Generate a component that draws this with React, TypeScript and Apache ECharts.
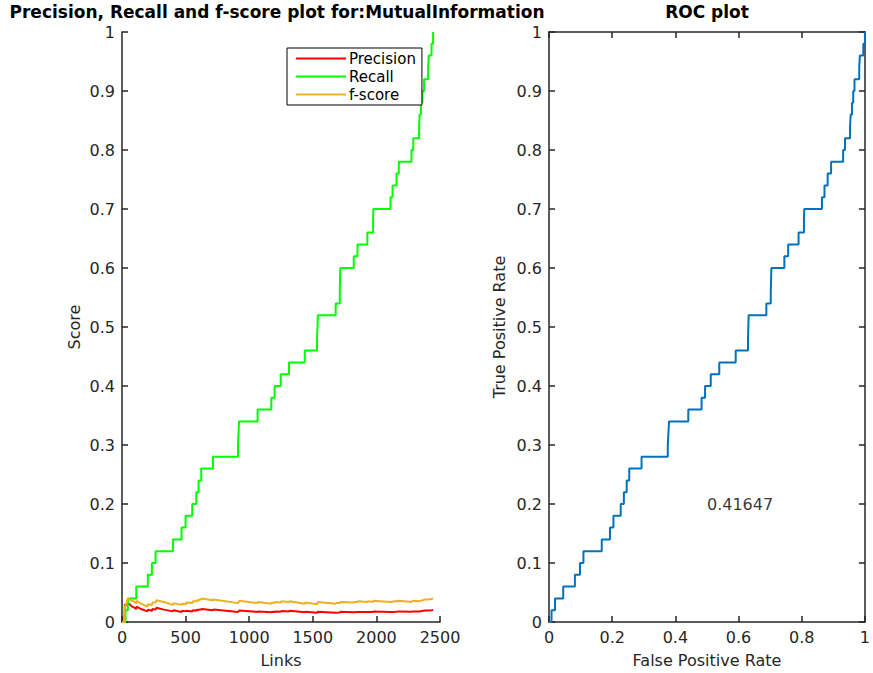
import { useEffect, useRef } from "react";
import * as echarts from "echarts";

const FONT = "DejaVu Sans";
const AXIS_COLOR = "#262626";

// Recall steps: link count at which recall reaches each new level
const recallLinks = [
  0, 28, 46, 112, 203, 235, 264, 400, 468, 500, 552, 584, 602, 623, 715, 912, 916, 920,
  1066, 1174, 1200, 1248, 1313, 1437, 1533, 1537, 1540, 1680, 1712, 1714, 1716, 1822,
  1851, 1929, 1974, 1976, 2111, 2127, 2158, 2176, 2276, 2290, 2336, 2340, 2350, 2362,
  2375, 2407, 2412, 2433, 2446,
];
const recallValues = [
  0, 0.02, 0.04, 0.06, 0.08, 0.1, 0.12, 0.14, 0.16, 0.18, 0.2, 0.22, 0.24, 0.26, 0.28,
  0.3, 0.32, 0.34, 0.36, 0.38, 0.4, 0.42, 0.44, 0.46, 0.48, 0.5, 0.52, 0.54, 0.56, 0.58,
  0.6, 0.62, 0.64, 0.66, 0.68, 0.7, 0.72, 0.74, 0.76, 0.78, 0.8, 0.82, 0.84, 0.86, 0.88,
  0.9, 0.92, 0.94, 0.96, 0.98, 1.0,
];

// Precision and f-score sampled at the same link counts
const scoreLinks = [
  0, 20, 22, 35, 46, 60, 80, 100, 112, 115,
  150, 200, 205, 235, 240, 264, 270, 330, 400, 405,
  468, 472, 500, 505, 552, 556, 584, 588, 602, 606,
  623, 627, 715, 720, 912, 916, 922, 1066, 1070, 1174,
  1178, 1200, 1205, 1248, 1252, 1313, 1318, 1437, 1442, 1533,
  1540, 1680, 1684, 1712, 1716, 1822, 1826, 1851, 1855, 1929,
  1933, 1974, 1978, 2111, 2115, 2127, 2131, 2158, 2162, 2176,
  2180, 2276, 2290, 2336, 2381, 2407, 2433, 2446,
];
const precisionValues = [
  0, 0, 0.03, 0.028, 0.032, 0.03, 0.026, 0.024, 0.022, 0.026,
  0.022, 0.018, 0.021, 0.019, 0.022, 0.021, 0.024, 0.021, 0.018, 0.02,
  0.017, 0.019, 0.018, 0.019, 0.018, 0.02, 0.019, 0.021, 0.02, 0.021,
  0.021, 0.022, 0.02, 0.021, 0.017, 0.018, 0.0195, 0.017, 0.018, 0.0165,
  0.0175, 0.017, 0.018, 0.0175, 0.0185, 0.018, 0.019, 0.0165, 0.0175, 0.0155,
  0.0175, 0.0155, 0.016, 0.016, 0.0175, 0.0165, 0.017, 0.017, 0.0175, 0.017,
  0.0175, 0.017, 0.018, 0.017, 0.0172, 0.017, 0.0176, 0.0175, 0.018, 0.018,
  0.0182, 0.0175, 0.018, 0.0178, 0.0193, 0.0195, 0.02, 0.0205,
];
const fscoreValues = [
  0, 0, 0.026, 0.032, 0.04, 0.038, 0.036, 0.034, 0.031, 0.036,
  0.031, 0.026, 0.03, 0.029, 0.033, 0.033, 0.037, 0.034, 0.029, 0.032,
  0.029, 0.031, 0.03, 0.033, 0.032, 0.035, 0.035, 0.037, 0.036, 0.038,
  0.038, 0.04, 0.037, 0.038, 0.032, 0.034, 0.036, 0.032, 0.034, 0.031,
  0.033, 0.032, 0.034, 0.033, 0.035, 0.034, 0.035, 0.031, 0.033, 0.03,
  0.034, 0.031, 0.032, 0.032, 0.034, 0.033, 0.034, 0.034, 0.035, 0.034,
  0.035, 0.034, 0.036, 0.034, 0.034, 0.034, 0.035, 0.035, 0.036, 0.035,
  0.036, 0.034, 0.036, 0.035, 0.038, 0.038, 0.039, 0.04,
];

// ROC steps: false positive rate at which the true positive rate reaches each level
const rocFpr = [
  0, 0.008, 0.019, 0.045, 0.082, 0.098, 0.109, 0.167, 0.193, 0.204, 0.227, 0.237, 0.246,
  0.254, 0.293, 0.376, 0.378, 0.38, 0.441, 0.483, 0.494, 0.512, 0.539, 0.591, 0.63, 0.631,
  0.632, 0.688, 0.702, 0.703, 0.704, 0.745, 0.757, 0.79, 0.807, 0.808, 0.864, 0.872,
  0.882, 0.893, 0.931, 0.937, 0.953, 0.955, 0.959, 0.963, 0.967, 0.982, 0.984, 0.995, 1.0,
];
const rocTpr = recallValues;

const aucLabel = "0.41647";
const aucAnchor = [0.5, 0.2];

const zip = (xs: number[], ys: number[]) => xs.map((x, i) => [x, ys[i]]);

const tickFmt = (v: number) => String(parseFloat(v.toFixed(2)));

function valueAxis(extra: Record<string, unknown>) {
  return {
    type: "value",
    splitLine: { show: false },
    axisLine: { show: true, onZero: false, lineStyle: { color: AXIS_COLOR, width: 1.5 } },
    axisTick: { show: true, inside: true, length: 6, lineStyle: { color: AXIS_COLOR, width: 1.5 } },
    axisLabel: { color: AXIS_COLOR, fontFamily: FONT, fontSize: 16, margin: 7, formatter: tickFmt },
    nameTextStyle: { color: AXIS_COLOR, fontFamily: FONT, fontSize: 16 },
    ...extra,
  };
}

export default function App() {
  const ref = useRef<HTMLDivElement>(null);

  useEffect(() => {
    if (!ref.current) return;
    const chart = echarts.init(ref.current, undefined, { renderer: "svg" });
    chart.setOption({
      animation: false,
      backgroundColor: "#ffffff",
      textStyle: { fontFamily: FONT },
      title: [
        {
          text: "Precision, Recall and f-score plot for:MutualInformation",
          left: 277,
          top: 0,
          padding: [3, 0, 0, 0],
          textAlign: "center",
          textStyle: { fontFamily: FONT, fontSize: 17, lineHeight: 18, fontWeight: "bold", color: "#000" },
        },
        {
          text: "ROC plot",
          left: 707,
          top: 0,
          padding: [3, 0, 0, 0],
          textAlign: "center",
          textStyle: { fontFamily: FONT, fontSize: 17, lineHeight: 18, fontWeight: "bold", color: "#000" },
        },
      ],
      legend: {
        data: ["Precision", "Recall", "f-score"],
        orient: "vertical",
        left: 287,
        top: 48,
        padding: [2, 6, 2, 9],
        itemGap: 1,
        itemWidth: 50,
        itemHeight: 2,
        icon: "rect",
        backgroundColor: "#ffffff",
        borderColor: "#000000",
        borderWidth: 1,
        borderRadius: 0,
        textStyle: { fontFamily: FONT, fontSize: 15, color: "#000", lineHeight: 17, padding: [0, 0, 0, -2] },
      },
      grid: [
        { left: 122, top: 32, width: 318, height: 593 },
        { left: 549, top: 32, width: 316, height: 593 },
      ],
      xAxis: [
        valueAxis({
          gridIndex: 0,
          min: 0,
          max: 2500,
          interval: 500,
          name: "Links",
          nameLocation: "middle",
          nameGap: 30,
        }),
        valueAxis({
          gridIndex: 1,
          min: 0,
          max: 1,
          interval: 0.2,
          name: "False Positive Rate",
          nameLocation: "middle",
          nameGap: 30,
        }),
        valueAxis({
          gridIndex: 1,
          position: "top",
          min: 0,
          max: 1,
          interval: 0.2,
          axisLabel: { show: false },
        }),
      ],
      yAxis: [
        valueAxis({
          gridIndex: 0,
          min: 0,
          max: 1,
          interval: 0.1,
          name: "Score",
          nameLocation: "middle",
          nameGap: 40,
        }),
        valueAxis({
          gridIndex: 1,
          min: 0,
          max: 1,
          interval: 0.1,
          name: "True Positive Rate",
          nameLocation: "middle",
          nameGap: 42,
        }),
        valueAxis({
          gridIndex: 1,
          position: "right",
          min: 0,
          max: 1,
          interval: 0.1,
          axisLabel: { show: false },
        }),
      ],
      series: [
        {
          name: "Precision",
          type: "line",
          xAxisIndex: 0,
          yAxisIndex: 0,
          symbol: "none",
          color: "#ff0000",
          lineStyle: { width: 2, color: "#ff0000" },
          data: zip(scoreLinks, precisionValues),
        },
        {
          name: "Recall",
          type: "line",
          xAxisIndex: 0,
          yAxisIndex: 0,
          step: "end",
          symbol: "none",
          color: "#00ff00",
          lineStyle: { width: 2, color: "#00ff00" },
          data: zip(recallLinks, recallValues),
        },
        {
          name: "f-score",
          type: "line",
          xAxisIndex: 0,
          yAxisIndex: 0,
          symbol: "none",
          color: "#edb120",
          lineStyle: { width: 2, color: "#edb120" },
          data: zip(scoreLinks, fscoreValues),
        },
        {
          name: "ROC",
          type: "line",
          xAxisIndex: 1,
          yAxisIndex: 1,
          step: "end",
          symbol: "none",
          color: "#0072bd",
          lineStyle: { width: 2, color: "#0072bd" },
          data: zip(rocFpr, rocTpr),
        },
        {
          name: "AUC",
          type: "scatter",
          xAxisIndex: 1,
          yAxisIndex: 1,
          symbolSize: 0,
          silent: true,
          label: {
            show: true,
            position: "right",
            distance: 0,
            formatter: aucLabel,
            fontFamily: FONT,
            fontSize: 16,
            color: "#000",
          },
          data: [aucAnchor],
        },
      ],
    });
    return () => chart.dispose();
  }, []);

  return (
    <div
      ref={ref}
      style={{ position: "absolute", left: 0, top: 0, width: 873, height: 673, background: "#fff" }}
    />
  );
}
